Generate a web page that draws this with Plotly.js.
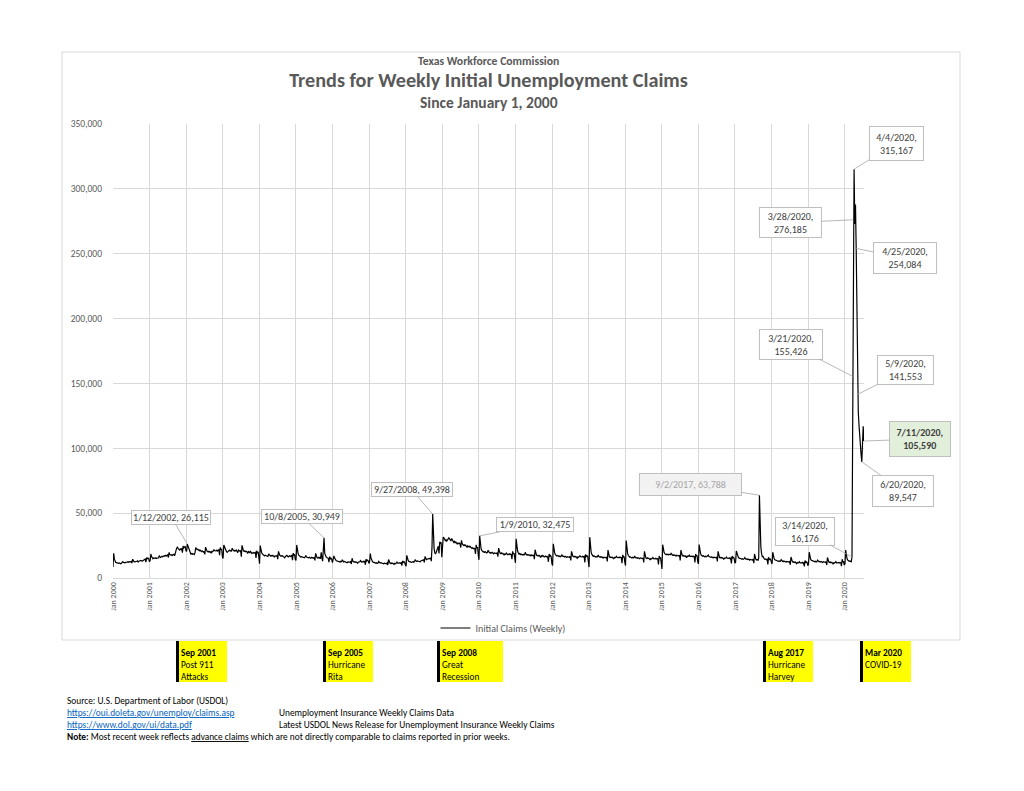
<!DOCTYPE html>
<html>
<head>
<meta charset="utf-8">
<script src="https://cdn.plot.ly/plotly-3.0.1.min.js"></script>
<style>
  html, body { margin: 0; padding: 0; background: #ffffff; }
  #chart { width: 1024px; height: 791px; }
</style>
</head>
<body>
<div id="chart"></div>
<script>
// ---------------- DATA (weekly initial claims, week ending Saturday) ----------------
const seriesName = "Initial Claims (Weekly)";

// First week-ending Saturday of each calendar year
const yearStarts = ["2000-01-01","2001-01-06","2002-01-05","2003-01-04","2004-01-03","2005-01-01",
  "2006-01-07","2007-01-06","2008-01-05","2009-01-03","2010-01-02","2011-01-01","2012-01-07",
  "2013-01-05","2014-01-04","2015-01-03","2016-01-02","2017-01-07","2018-01-06","2019-01-05","2020-01-04"];

const claims2000 = [8500,19000,14500,12800,12000, 11800,11500,11000,11300, 11600,11200,11000,11400,
  11800,12600,12000,11500,11700, 12000,11800,12200,12400, 12100,12600,12300,12500,
  12800,11500,14500,13200,12600, 12400,12800,12500,12900, 13200,12400,13000,13300,13100,
  13600,13200,13000,13500, 14000,14300,14600,12200, 15800,14900,15300,14700,12500];
const claims2001 = [13500,18500,16500,15200, 14800,15500,14900,15100, 15600,15000,15400,15800,15500,
  17000,16200,15900,16300, 16800,16400,16900,17200, 16800,17400,17000,17600,17900,
  15800,19800,18200,17700, 17500,17900,17400,18100, 18300,17200,18600,21500,23200,
  24000,22600,22000,21600, 22400,21900,22800,19500, 24600,23200,23800,24500,21000];
const claims2002 = [20500,26115,24800,22500, 21800,19800,18500,18900, 18200,18800,18400,18000,19500,
  23500,22600,21800,22200, 21500,21000,21600,20800, 20300,20900,20500,20000,20600,
  18200,23800,21500,20800, 20200,20600,19900,20400,20100, 19000,20500,20200,20800,
  22000,21000,20600,20900, 21500,20800,21400,21800,17500, 23500,21800,22500,16500];
const claims2003 = [15000,25500,24000,21500, 20800,20200,19800,20400, 20900,21500,20800,21200,20600,
  23000,21800,21200,20700, 21300,20900,21500,20800,19500, 21600,21100,20700,21200,
  16500,25200,22400,21000, 20500,20900,20300,20600,20200, 18800,20400,19900,19600,
  20500,19400,19000,19300, 19600,19100,19500,19800,15500, 21000,19600,20200,16000];
const claims2004 = [11000,25000,21500,19500,18500, 17800,17400,17000,17500, 17200,16800,17100,16600,
  18500,17900,17200,16800, 17300,16900,17400,16700,16200, 17000,16600,16900,17300,
  14500,20500,18500,17400,16900, 17200,16700,17100,16500, 16200,15500,16600,16900,
  17500,16700,16300,16800,17200, 16600,17000,17400,13800, 19200,17500,18200,14200];
const claims2005 = [13500,25500,21000,18800,17600, 16900,16400,16000,16500, 16200,15800,16100,15600,
  16300,17300,16200,15800,16100, 15600,16000,15500,15200, 15900,15400,15700,15300,
  16000,13500,19000,16600,15700, 15400,15900,15300,15800, 14800,19800,15500,13000,
  22000,30949,19000,16500,16200, 15800,15000,15200,12200, 16500,14800,15300,14200,11800];
const claims2006 = [14500,17000,15500,14200, 13600,13200,12800,13100, 12700,12400,12800,12300,
  12600,14000,12800,12400,12700, 12300,12600,12100,11800, 12400,12000,12300,12100,
  12600,10800,15200,13200,12500, 12200,12600,12100,12400, 12000,11400,12300,12100,12500,
  13400,12600,12200,12500, 12900,12400,12800,10200, 14500,13200,13800,13300,11200];
const claims2007 = [12500,18800,15500,13500, 12800,12200,11800,12100, 11700,11400,11800,11300,11600,
  12800,11900,11500,11800, 11400,11700,11200,10900, 11500,11100,11400,11000,11600,
  10000,14200,12300,11500, 11200,11600,11100,11400, 11000,10500,11300,11000,11400,
  12300,11500,11100,11400, 11800,11300,11700,9500, 13200,12000,12600,12100,10000];
const claims2008 = [9000,17500,15000,13500, 12800,12500,12100,12400, 12000,12300,12700,12200,12600,
  14000,13000,12700,13100, 12900,13300,12800,12500,13200, 13600,13300,13800,14000,
  12000,16500,14800,14200, 14500,14900,14600,15100,14800, 15300,13000,24000,49398,
  30000,22500,19500,18500, 19800,21500,22800,24500,19000, 28000,26500,27500,16000];
const claims2009 = [22000,31500,31000,29500,28800, 29500,28400,29200,30000, 31000,30200,29000,28500,
  30500,29200,28000,27500, 28200,27200,27800,26800,26000, 27000,26500,26900,26200,
  23500,29000,26500,25800, 25200,25600,24900,25300,24600, 23500,24800,24200,23800,
  24500,23600,23100,22800,23300, 22600,23000,22500,18500, 25500,23200,23800,17500];
const claims2010 = [14000,32475,25500,22500,21200, 20500,20000,20400,19800, 20200,19700,19300,19800,
  21500,20200,19600,19200, 19700,19300,19800,19000,18600, 19400,19000,19300,18900,
  19500,16500,23000,20000,19200, 18800,19300,18700,19000, 18400,17500,18600,18300,
  19200,18400,17900,18200,18600, 18100,18500,18000,14500, 20500,18600,19200,16500];
const claims2011 = [11700,30200,24500,21000,19500, 18400,18900,18000,18500, 18100,17800,18200,17700,
  18000,19800,18300,17800,18100, 17600,18000,17400,17100, 17800,17300,17600,17200,
  17800,14500,21800,18500,17600, 17200,17500,17000,17300, 16800,15800,17000,16700,
  17400,16600,16200,16500,16900, 16300,16700,16200,12500, 18500,16800,17300,16400,11000];
const claims2012 = [9600,26300,21500,19200, 18000,17400,16900,17300, 16800,16500,16900,16400,16700,
  18000,17000,16500,16800, 16300,16700,16200,15800, 16500,16100,16400,16000,16600,
  13500,20500,17600,16700, 16300,16700,16200,16500, 16000,15200,16300,16000,16500,
  17200,16400,16000,16300, 16700,16200,16600,12000, 18200,16600,17100,16800,12500];
const claims2013 = [8400,31500,23500,19800, 18200,17300,16700,17100, 16500,16200,16600,16100,16400,
  17800,16600,16100,16400, 15900,16300,15800,15400, 16100,15700,16000,15600,16200,
  12800,21500,17200,16200, 15800,16200,15700,16000,15500, 14600,15800,15500,16000,
  16700,15800,15400,15700, 16100,15600,16000,15700,11500, 17800,16000,16600,12000];
const claims2014 = [9600,28900,22000,18800, 17300,16500,16000,16300, 15800,15500,15900,15400,15700,
  17000,15900,15400,15700, 15200,15600,15100,14800,15400, 15000,15300,14900,15500,
  12000,20500,16500,15500, 15100,15500,15000,15300,14800, 13900,15000,14700,15100,
  15800,14900,14500,14800, 15200,14600,15000,14700,10500, 17000,15200,15900,11500];
const claims2015 = [7000,25700,22000,19800,18800, 18400,18000,18500,18200, 17800,18300,17700,17900,
  19000,18100,17600,17900, 17400,17800,17200,16900,17500, 17100,17400,17000,17600,
  13500,21500,18200,17300, 16900,17300,16800,17100,16600, 15700,16900,16500,16900,
  17600,16700,16300,16600,17000, 16400,16800,16500,12000, 18500,16800,17400,12500];
const claims2016 = [10900,25800,21500,18800,17700, 17200,16800,17200,16700, 16400,16800,16300,16600,
  17200,17700,16500,16100,16400, 15900,16300,15800,15500, 16100,15700,16000,15600,
  16200,12800,20500,16800,15900, 15500,15900,15400,15700, 15200,14300,15400,15100,
  15500,16100,15200,14800,15100, 15500,14900,15300,11200, 17000,15300,15900,15000,11500];
const claims2017 = [12200,20800,18500,16800, 15800,15300,14900,15200, 14800,14500,14900,14400,
  14700,15800,14800,14400,14700, 14200,14600,14100,13800, 14400,14000,14300,13900,
  14500,11500,18500,15000,14200, 13900,14300,13800,15500, 63788,40000,24000,19000,16500,
  16800,15200,14600,14400, 14700,14100,14400,10500, 16000,14300,14800,14000,10800];
const claims2018 = [10800,19900,16500,14800, 14000,13600,13200,13500, 13100,12800,13200,12700,13000,
  14200,13200,12800,13100, 12600,13000,12500,12200, 12800,12400,12700,12300,12900,
  10200,16200,13400,12600, 12200,12500,12000,12300, 11800,11000,11900,11600,12000,
  12600,11700,11300,11600, 12000,11400,11800,9000, 13500,12000,12500,12100,9500];
const claims2019 = [10800,19900,16200,14500, 13700,13300,12900,13200, 12800,12500,12900,12400,12700,
  13800,12900,12500,12800, 12300,12700,12200,11900, 12500,12100,12400,12000,12600,
  10000,15800,13100,12300, 11900,12300,11800,12100,11600, 10900,11800,11500,11900,
  12600,11700,11300,11600, 12000,11500,11900,11600,9200, 14500,12300,12900,10000];
const claims2020 = [10800,21500,16800,14800, 13800,13300,12900,13200,12800, 12500,16176,155426,276185,
  315167,273000,288000,254084, 190000,141553,128000,118000,108000, 101000,95000,89547,110000,
  117000,105590];

const claimsByYear = [claims2000,claims2001,claims2002,claims2003,claims2004,claims2005,claims2006,
  claims2007,claims2008,claims2009,claims2010,claims2011,claims2012,claims2013,claims2014,claims2015,
  claims2016,claims2017,claims2018,claims2019,claims2020];

// Labelled points (callouts)
const calloutDates  = ["2002-01-12","2005-10-08","2008-09-27","2010-01-09","2017-09-02","2020-03-14",
  "2020-03-21","2020-03-28","2020-04-04","2020-04-25","2020-05-09","2020-07-11","2020-06-20"];
const calloutValues = [26115,30949,49398,32475,63788,16176,155426,276185,315167,254084,141553,105590,89547];
const calloutLabels = ["1/12/2002, 26,115","10/8/2005, 30,949","9/27/2008, 49,398","1/9/2010, 32,475",
  "9/2/2017, 63,788","3/14/2020,<br>16,176","3/21/2020,<br>155,426","3/28/2020,<br>276,185",
  "4/4/2020,<br>315,167","4/25/2020,<br>254,084","5/9/2020,<br>141,553","<b>7/11/2020,<br>105,590</b>",
  "6/20/2020,<br>89,547"];

// Event markers below the chart
const eventDates  = ["Sep 2001","Sep 2005","Sep 2008","Aug 2017","Mar 2020"];
const eventLines1 = ["Post 911","Hurricane","Great","Hurricane","COVID-19"];
const eventLines2 = ["Attacks","Rita","Recession","Harvey",""];

// ---------------- BUILD ----------------
const DAY = 86400000;
const xs = [], ys = [];
claimsByYear.forEach((vals, k) => {
  const t0 = Date.parse(yearStarts[k] + "T00:00:00Z");
  vals.forEach((v, i) => {
    xs.push(new Date(t0 + i * 7 * DAY).toISOString().slice(0, 10));
    ys.push(v);
  });
});

const FONT = "Carlito, Calibri, Lato, 'Liberation Sans', sans-serif";
const GRAY = "#595959";

// plot-area pixel box, used to place page decorations in paper coordinates
const PL = 113, PR = 864, PT = 124, PB = 578;
const fx = px => (px - PL) / (PR - PL);
const fy = py => (PB - py) / (PB - PT);

// callout box geometry (pixel offsets from point, box sizes)
const calloutStyle = [
  {ax:-16, ay:-27, w:76, h:11},
  {ax:-22, ay:-21, w:78, h:11},
  {ax:-21, ay:-24, w:78, h:11},
  {ax:55,  ay:-11, w:74, h:11},
  {ax:-69, ay:-11, w:99, h:19, bg:"#f2f2f2", color:"#a6a6a6"},
  {ax:-47, ay:-26, w:56, h:25},
  {ax:-62, ay:-32, w:60, h:27},
  {ax:-63, ay:3,   w:59, h:27},
  {ax:42,  ay:-26, w:51, h:31},
  {ax:49,  ay:10,  w:60, h:28},
  {ax:48,  ay:-24, w:53, h:26},
  {ax:56,  ay:-2,  w:58, h:32, bg:"#e2efda"},
  {ax:41,  ay:29,  w:58, h:28}
];

const annotations = [];

// subtitle lines
annotations.push({xref:"paper", yref:"paper", x:0.5, y:fy(61), xanchor:"center", yanchor:"middle",
  text:"<b>Texas Workforce Commission</b>", showarrow:false, font:{family:FONT, size:11.7, color:GRAY}});
annotations.push({xref:"paper", yref:"paper", x:0.5, y:fy(102.5), xanchor:"center", yanchor:"middle",
  text:"<b>Since January 1, 2000</b>", showarrow:false, font:{family:FONT, size:15.5, color:GRAY}});

calloutDates.forEach((d, i) => {
  const s = calloutStyle[i];
  annotations.push({
    x: d, y: calloutValues[i], xref:"x", yref:"y",
    text: calloutLabels[i], showarrow:true, arrowhead:0, arrowwidth:0.8, arrowcolor:"#a6a6a6",
    ax: s.ax, ay: s.ay, standoff:0,
    bgcolor: s.bg || "#ffffff", bordercolor:"#bfbfbf", borderwidth:1, borderpad:1,
    width: s.w, height: s.h, align:"center", valign:"middle",
    font:{family:FONT, size:10, color: s.color || "#404040"}
  });
});

// event boxes
const eventBoxes = [[176,227],[323,373],[437,503],[763,813],[860,911]];
const shapes = [];
// outer chart-area border
shapes.push({type:"rect", xref:"paper", yref:"paper", x0:fx(62), x1:fx(960), y0:fy(640), y1:fy(52),
  line:{color:"#d9d9d9", width:1}, fillcolor:"rgba(0,0,0,0)", layer:"below"});
eventBoxes.forEach((b, i) => {
  shapes.push({type:"rect", xref:"paper", yref:"paper", x0:fx(b[0]), x1:fx(b[1]), y0:fy(682), y1:fy(641),
    line:{width:0}, fillcolor:"#ffff00"});
  shapes.push({type:"line", xref:"paper", yref:"paper", x0:fx(b[0]+1.5), x1:fx(b[0]+1.5), y0:fy(682), y1:fy(641),
    line:{color:"#000000", width:3}});
  const lines = ["<b>" + eventDates[i] + "</b>", eventLines1[i]];
  if (eventLines2[i]) lines.push(eventLines2[i]);
  annotations.push({xref:"paper", yref:"paper", x:fx(b[0]+3), y:fy(645), xanchor:"left", yanchor:"top",
    text: lines.join("<br>"), align:"left", showarrow:false,
    font:{family:FONT, size:9.3, color:"#000000"}});
});

// source notes
const noteFont = {family:FONT, size:9.35, color:"#000000"};
const linkStyle = "color:#0563c1;text-decoration:underline";
[
  [65, 701, "Source: U.S. Department of Labor (USDOL)"],
  [65, 713, "<span style='" + linkStyle + "'>https://oui.doleta.gov/unemploy/claims.asp</span>"],
  [277, 713, "Unemployment Insurance Weekly Claims Data"],
  [65, 725, "<span style='" + linkStyle + "'>https://www.dol.gov/ui/data.pdf</span>"],
  [277, 725, "Latest USDOL News Release for Unemployment Insurance Weekly Claims"],
  [65, 737, "<b>Note:</b> Most recent week reflects <span style='text-decoration:underline'>advance claims</span> which are not directly comparable to claims reported in prior weeks."]
].forEach(r => {
  annotations.push({xref:"paper", yref:"paper", x:fx(r[0]), y:fy(r[1]), xanchor:"left", yanchor:"middle",
    text:r[2], showarrow:false, font:noteFont});
});

const trace = {
  type:"scatter", mode:"lines", name: seriesName, x: xs, y: ys,
  line:{color:"#000000", width:1.2}, hoverinfo:"x+y"
};

const layout = {
  width:1024, height:791,
  paper_bgcolor:"#ffffff", plot_bgcolor:"#ffffff",
  margin:{l:PL, r:1024-PR, t:PT, b:791-PB, pad:0},
  font:{family:FONT, color:GRAY},
  title:{text:"<b>Trends for Weekly Initial Unemployment Claims</b>", x:0.5, xref:"paper", xanchor:"center",
    y:1 - 80/791, yref:"container", yanchor:"middle", font:{family:FONT, size:20.2, color:GRAY}},
  xaxis:{type:"date", range:["2000-01-01","2020-07-12"], tick0:"2000-01-01", dtick:"M12",
    tickformat:"%b %Y", tickangle:-90, showgrid:true, gridcolor:"#d9d9d9", gridwidth:1,
    showline:true, linecolor:"#d9d9d9", ticks:"", zeroline:false,
    tickfont:{family:FONT, size:8, color:GRAY}, fixedrange:true},
  yaxis:{range:[0,350000], dtick:50000, tickformat:",d", showgrid:true, gridcolor:"#d9d9d9", gridwidth:1,
    zeroline:false, showline:false, ticks:"", ticklabelstandoff:10,
    tickfont:{family:FONT, size:9.5, color:GRAY}, fixedrange:true},
  showlegend:true,
  legend:{orientation:"h", x:fx(503), xanchor:"center", y:fy(628), yanchor:"middle",
    font:{family:FONT, size:10, color:GRAY}, bgcolor:"rgba(0,0,0,0)"},
  annotations: annotations,
  shapes: shapes,
  hovermode:false
};

Plotly.newPlot("chart", [trace], layout, {displayModeBar:false, staticPlot:true});
</script>
</body>
</html>
